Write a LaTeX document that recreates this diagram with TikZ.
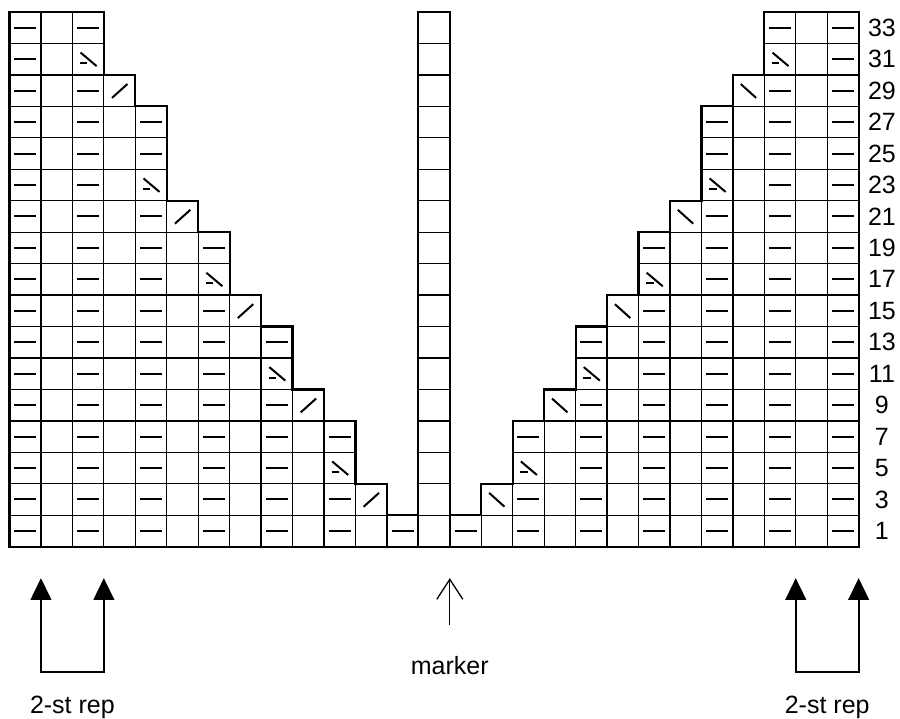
\documentclass[tikz,border=0pt]{standalone}
\usepackage{fontspec}
\setmainfont{Liberation Sans}
\usetikzlibrary{arrows.meta}

\tikzset{
  cellbox/.style={line width=1.3pt},
  outline/.style={line width=2.2pt, line join=miter},
  stitch/.style={line width=2pt},
  rowlbl/.style={font=\fontsize{25}{30}\selectfont, inner sep=0pt},
  replbl/.style={font=\fontsize{25}{30}\selectfont, inner sep=0pt, anchor=base},
  reparrow/.style={line width=2pt, {Triangle[length=21.7pt,width=20.6pt]}-{Triangle[length=21.7pt,width=20.6pt]}},
  markarrow/.style={line width=1.3pt, -{Straight Barb[length=20pt,width=26pt]}},
}

% stitch symbols, #1 = column, #2 = row
\newcommand{\purlmark}[2]{\draw[stitch] (#1+0.15,#2+0.5) -- (#1+0.85,#2+0.5);}
\newcommand{\ktogmark}[2]{\draw[stitch] (#1+0.26,#2+0.27) -- (#1+0.75,#2+0.71);}
\newcommand{\sskmark}[2]{\draw[stitch] (#1+0.25,#2+0.71) -- (#1+0.74,#2+0.27);}
\newcommand{\decmark}[2]{\draw[stitch] (#1+0.26,#2+0.71) -- (#1+0.77,#2+0.28);
  \draw[stitch] (#1+0.24,#2+0.37) -- (#1+0.48,#2+0.37);}

\begin{document}
\begin{tikzpicture}[x=31.45pt, y=31.45pt]
    \useasboundingbox (-0.302,-5.478) rectangle (28.315,17.382);

    % Both halves: row / width / last stitch (0 purl, 1 k2tog, 2 dec)
    \foreach \r/\w/\k in {0/13/0, 1/12/1, 2/11/2, 3/11/0, 4/10/1, 5/9/2, 6/9/0, 7/8/1,
                          8/7/2, 9/7/0, 10/6/1, 11/5/2, 12/5/0, 13/5/0, 14/4/1, 15/3/2, 16/3/0} {
        \pgfmathtruncatemacro{\last}{\w-1}
        \foreach \c in {0,...,\last} {
            \pgfmathtruncatemacro{\m}{26-\c}
            \draw[cellbox] (\c,\r) rectangle ++(1,1);
            \draw[cellbox] (\m,\r) rectangle ++(1,1);
            \ifnum\c<\last
                \ifodd\c\relax\else \purlmark{\c}{\r}\purlmark{\m}{\r}\fi
            \else
                \ifcase\k \purlmark{\c}{\r}\purlmark{\m}{\r}
                \or \ktogmark{\c}{\r}\sskmark{\m}{\r}
                \or \decmark{\c}{\r}\decmark{\m}{\r}
                \fi
            \fi
        }
    }

    % Center column
    \foreach \r in {0,...,16}
        \draw[cellbox] (13,\r) rectangle ++(1,1);

    % Outlines
    \draw[outline] (0,0) -- (13,0) -- (13,1) -- (12,1) -- (12,2) -- (11,2) -- (11,4) -- (10,4)
        -- (10,5) -- (9,5) -- (9,7) -- (8,7) -- (8,8) -- (7,8) -- (7,10) -- (6,10) -- (6,11)
        -- (5,11) -- (5,14) -- (4,14) -- (4,15) -- (3,15) -- (3,17) -- (0,17) -- cycle;
    \draw[outline] (27,0) -- (14,0) -- (14,1) -- (15,1) -- (15,2) -- (16,2) -- (16,4) -- (17,4)
        -- (17,5) -- (18,5) -- (18,7) -- (19,7) -- (19,8) -- (20,8) -- (20,10) -- (21,10) -- (21,11)
        -- (22,11) -- (22,14) -- (23,14) -- (23,15) -- (24,15) -- (24,17) -- (27,17) -- cycle;
    \draw[outline] (13,0) rectangle (14,17);

    % Row numbers
    \foreach \r in {0,...,16} {
        \pgfmathtruncatemacro{\lab}{2*\r+1}
        \node[rowlbl] (row\lab) at (27.74,\r+0.5) {\lab};
    }

    % Repeat brackets
    \coordinate (repAtip) at (1,-1);
    \coordinate (repAfoot) at (1,-3.97);
    \coordinate (repBfoot) at (3,-3.97);
    \coordinate (repBtip) at (3,-1);
    \draw[reparrow] (repAtip) -- (repAfoot) -- (repBfoot) -- (repBtip);
    \node[replbl] (repleft) at (2,-5.32) {2-st rep};

    \coordinate (repCtip) at (25,-1);
    \coordinate (repCfoot) at (25,-3.97);
    \coordinate (repDfoot) at (27,-3.97);
    \coordinate (repDtip) at (27,-1);
    \draw[reparrow] (repCtip) -- (repCfoot) -- (repDfoot) -- (repDtip);
    \node[replbl] (repright) at (26,-5.32) {2-st rep};

    % Marker
    \coordinate (markTip) at (14,-1.0);
    \coordinate (markFoot) at (14,-2.49);
    \draw[markarrow] (markFoot) -- (markTip);
    \node[replbl] (marker) at (14,-4.05) {marker};
\end{tikzpicture}
\end{document}
